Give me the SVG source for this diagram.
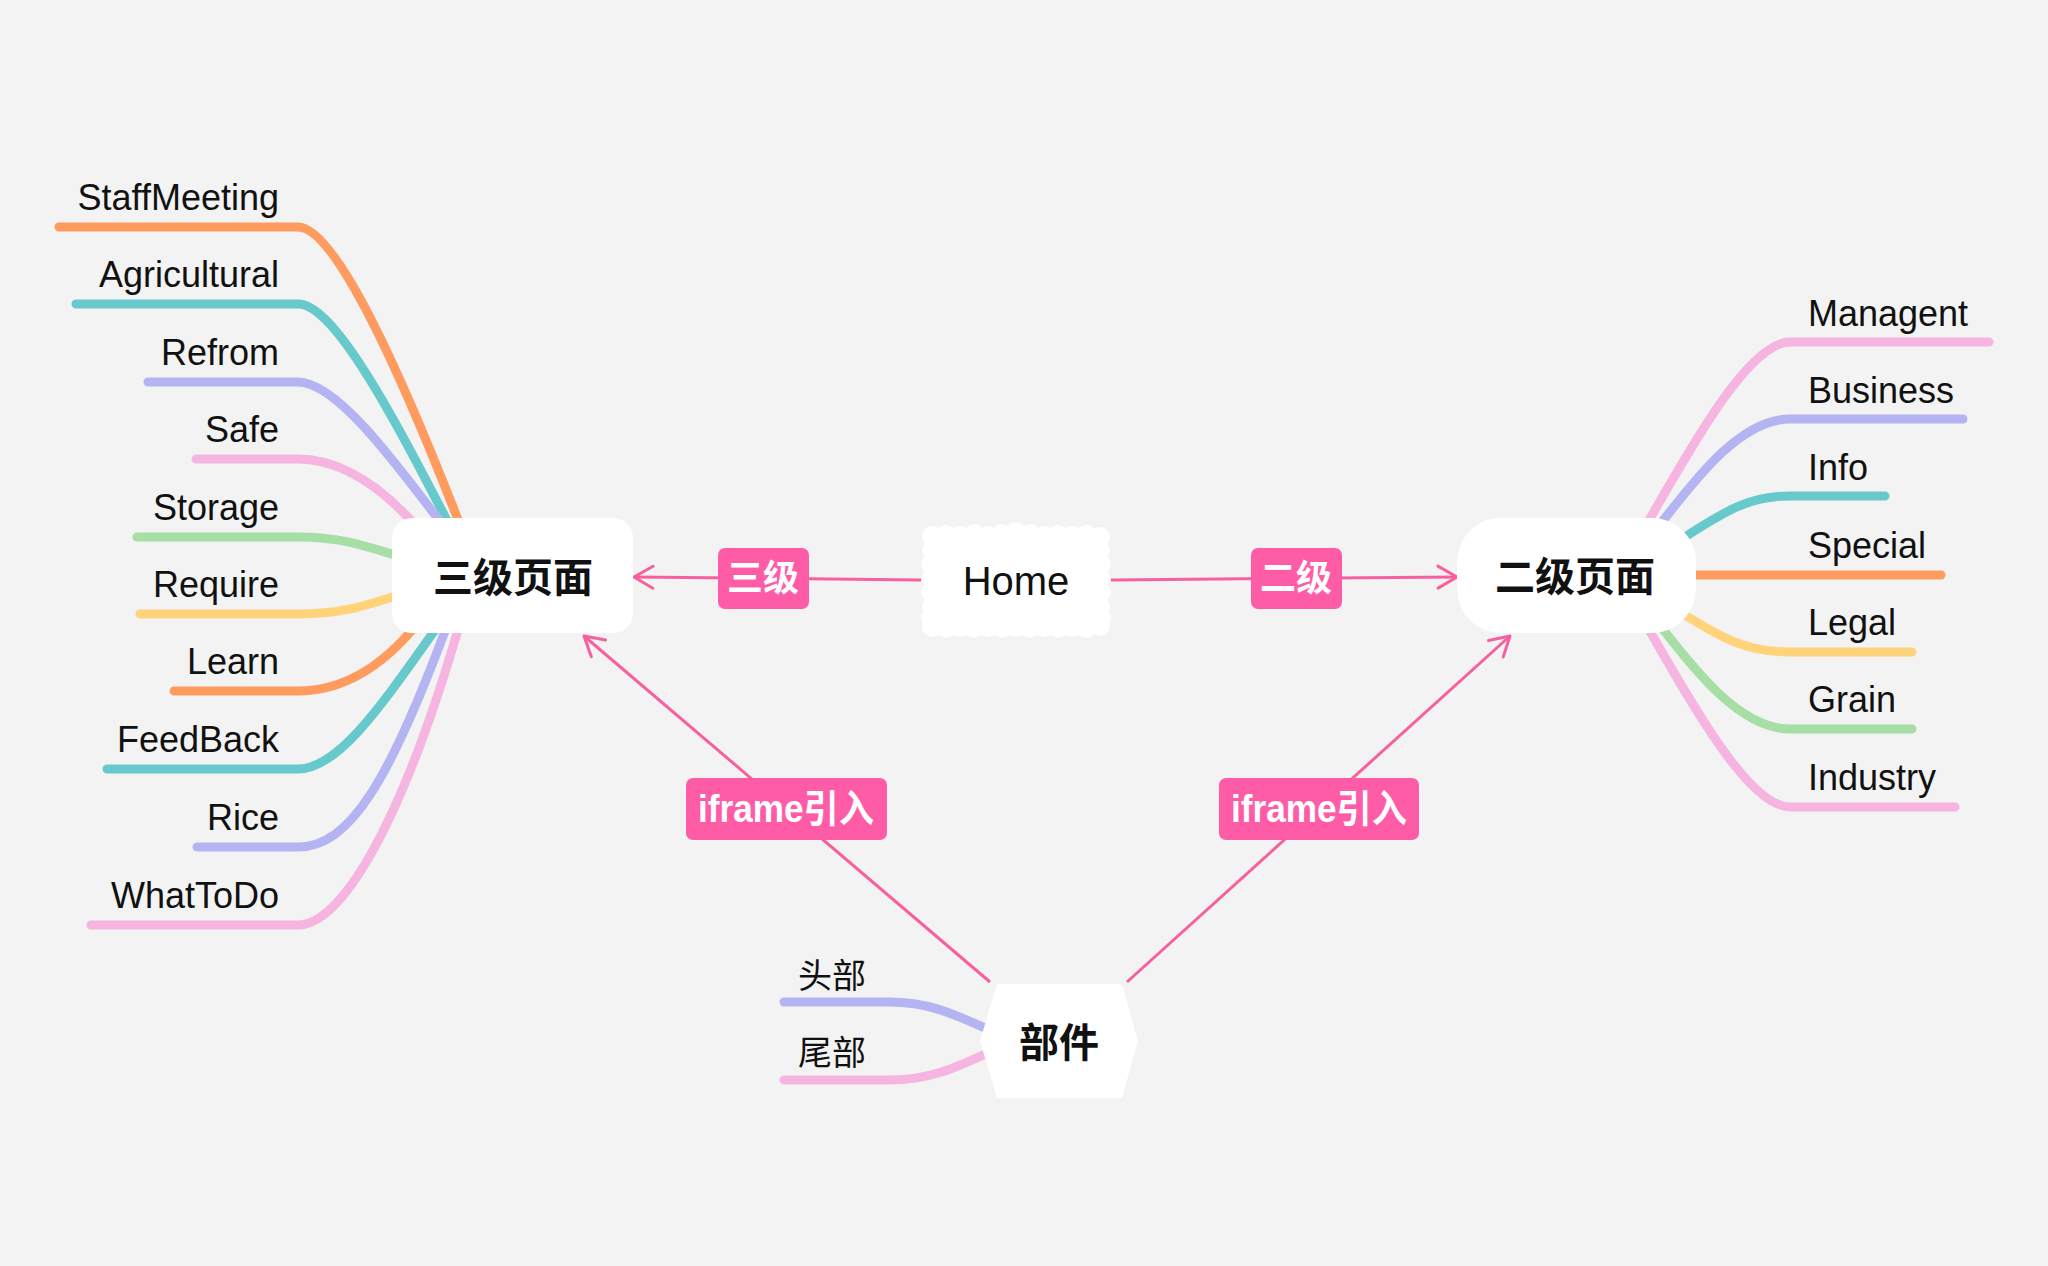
<svg xmlns="http://www.w3.org/2000/svg" width="2048" height="1266" viewBox="0 0 2048 1266">
<defs>
<style>
.br{fill:none;stroke-width:9;stroke-linecap:round;stroke-linejoin:round}
.or{stroke:#FF9B5E}.te{stroke:#67C9CC}.pu{stroke:#B4B4F2}.pk{stroke:#F5B5E0}.gr{stroke:#A6DEA6}.ye{stroke:#FFD37A}
.lbl{font-family:"Liberation Sans","Noto Sans CJK SC",sans-serif;font-size:36px;fill:#111}
.cjk{font-family:"Noto Sans CJK SC","Liberation Sans",sans-serif;fill:#111}
.rel{fill:none;stroke:#F7609F;stroke-width:3}
.tag{fill:#FF5CA8}
.tagt{font-family:"Liberation Sans","Noto Sans CJK SC",sans-serif;font-weight:bold;fill:#fff;text-anchor:middle}
.node{fill:#fff}
</style>
<marker id="arr" markerUnits="userSpaceOnUse" viewBox="-24 -14 28 28" markerWidth="28" markerHeight="28" refX="0" refY="0" orient="auto">
<path d="M-19,-11 L0,0 L-19,11" fill="none" stroke="#F7609F" stroke-width="3" stroke-linecap="round" stroke-linejoin="round"/>
</marker>
</defs>
<rect width="2048" height="1266" fill="#F3F3F3"/>

<g id="connectors">
<path class="br or" d="M59 227 H298 C335 227 400 370 462 530"/>
<path class="br te" d="M76 304 H298 C335 304 395 420 452 530"/>
<path class="br pu" d="M148 382 H298 C335 382 390 455 445 528"/>
<path class="br pk" d="M196 459 H298 C340 459 380 485 418 528"/>
<path class="br gr" d="M137 537 H298 C345 537 370 548 405 558"/>
<path class="br ye" d="M140 614 H298 C345 614 370 604 405 593"/>
<path class="br or" d="M174 691 H298 C340 691 380 670 418 623"/>
<path class="br te" d="M107 769 H298 C340 769 385 700 440 623"/>
<path class="br pu" d="M197 847 H298 C350 847 390 780 448 623"/>
<path class="br pk" d="M91 925 H298 C340 925 400 830 460 623"/>
<path class="br pk" d="M1648 522 C1695 440 1750 342 1790 342 H1989"/>
<path class="br pu" d="M1662 522 C1695 480 1740 419 1790 419 H1963"/>
<path class="br te" d="M1680 540 C1720 515 1745 496 1790 496 H1885"/>
<path class="br or" d="M1690 575 H1941"/>
<path class="br ye" d="M1680 612 C1720 637 1745 652 1790 652 H1912"/>
<path class="br gr" d="M1662 628 C1695 670 1740 729 1790 729 H1912"/>
<path class="br pk" d="M1648 628 C1695 710 1750 807 1790 807 H1955"/>
<path class="br pu" d="M784 1002 H890 C930 1002 955 1015 992 1031"/>
<path class="br pk" d="M784 1080 H890 C930 1080 955 1068 992 1051"/>
<line class="rel" x1="921" y1="580" x2="634" y2="577" marker-end="url(#arr)"/>
<line class="rel" x1="1111" y1="580" x2="1457" y2="577" marker-end="url(#arr)"/>
<line class="rel" x1="990" y1="982" x2="584" y2="636" marker-end="url(#arr)"/>
<line class="rel" x1="1127" y1="982" x2="1510" y2="636" marker-end="url(#arr)"/>
<g id="label-sanji"><rect class="tag" x="718" y="548" width="91" height="61" rx="7"/><text class="tagt" x="763" y="591" font-size="36">三级</text></g>
<g id="label-erji"><rect class="tag" x="1251" y="548" width="91" height="61" rx="7"/><text class="tagt" x="1296" y="591" font-size="36">二级</text></g>
<g id="label-iframe-left"><rect class="tag" x="686" y="778" width="201" height="62" rx="7"/><text class="tagt" x="786" y="822" font-size="38" textLength="176" lengthAdjust="spacingAndGlyphs">iframe引入</text></g>
<g id="label-iframe-right"><rect class="tag" x="1219" y="778" width="200" height="62" rx="7"/><text class="tagt" x="1319" y="822" font-size="38" textLength="176" lengthAdjust="spacingAndGlyphs">iframe引入</text></g>
</g>

<g id="node-sanji">
<rect class="node" x="392" y="518" width="241" height="115" rx="20"/>
<text class="cjk" x="513" y="592" font-size="40" font-weight="bold" text-anchor="middle">三级页面</text>
</g>
<g id="node-erji">
<rect class="node" x="1457" y="518" width="239" height="115" rx="44"/>
<text class="cjk" x="1575" y="591" font-size="40" font-weight="bold" text-anchor="middle">二级页面</text>
</g>
<g id="node-home">
<g class="node">
<rect x="932" y="535" width="168" height="93"/>
<circle cx="932" cy="536" r="10"/><circle cx="946" cy="535" r="10"/><circle cx="960" cy="536" r="10"/><circle cx="974" cy="534" r="10"/><circle cx="988" cy="536" r="10"/><circle cx="1002" cy="534" r="10"/><circle cx="1016" cy="532" r="10"/><circle cx="1030" cy="534" r="10"/><circle cx="1044" cy="536" r="10"/><circle cx="1058" cy="535" r="10"/><circle cx="1072" cy="536" r="10"/><circle cx="1086" cy="535" r="10"/><circle cx="1100" cy="537" r="10"/>
<circle cx="932" cy="627" r="10"/><circle cx="946" cy="628" r="10"/><circle cx="960" cy="627" r="10"/><circle cx="974" cy="628" r="10"/><circle cx="988" cy="627" r="10"/><circle cx="1002" cy="628" r="10"/><circle cx="1016" cy="627" r="10"/><circle cx="1030" cy="628" r="10"/><circle cx="1044" cy="627" r="10"/><circle cx="1058" cy="628" r="10"/><circle cx="1072" cy="627" r="10"/><circle cx="1086" cy="628" r="10"/><circle cx="1100" cy="626" r="10"/>
<circle cx="932" cy="550" r="10"/><circle cx="931" cy="564" r="10"/><circle cx="932" cy="578" r="10"/><circle cx="931" cy="592" r="10"/><circle cx="932" cy="606" r="10"/><circle cx="931" cy="618" r="10"/>
<circle cx="1100" cy="550" r="10"/><circle cx="1101" cy="564" r="10"/><circle cx="1100" cy="578" r="10"/><circle cx="1101" cy="592" r="10"/><circle cx="1100" cy="606" r="10"/><circle cx="1101" cy="618" r="10"/>
</g>
<text x="1016" y="595" font-family="Liberation Sans, sans-serif" font-size="40" fill="#111" text-anchor="middle">Home</text>
</g>
<g id="node-bujian">
<polygon class="node" points="980,1041 997,984 1122,984 1138,1041 1122,1098 997,1098"/>
<text class="cjk" x="1059" y="1057" font-size="40" font-weight="bold" text-anchor="middle">部件</text>
</g>

<g id="node-left-topics" class="lbl" text-anchor="end">
<g id="t-staffmeeting"><text x="279" y="210">StaffMeeting</text></g>
<g id="t-agricultural"><text x="279" y="287">Agricultural</text></g>
<g id="t-refrom"><text x="279" y="365">Refrom</text></g>
<g id="t-safe"><text x="279" y="442">Safe</text></g>
<g id="t-storage"><text x="279" y="520">Storage</text></g>
<g id="t-require"><text x="279" y="597">Require</text></g>
<g id="t-learn"><text x="279" y="674">Learn</text></g>
<g id="t-feedback"><text x="279" y="752">FeedBack</text></g>
<g id="t-rice"><text x="279" y="830">Rice</text></g>
<g id="t-whattodo"><text x="279" y="908">WhatToDo</text></g>
</g>
<g id="node-right-topics" class="lbl">
<g id="t-managent"><text x="1808" y="326">Managent</text></g>
<g id="t-business"><text x="1808" y="403">Business</text></g>
<g id="t-info"><text x="1808" y="480">Info</text></g>
<g id="t-special"><text x="1808" y="558">Special</text></g>
<g id="t-legal"><text x="1808" y="635">Legal</text></g>
<g id="t-grain"><text x="1808" y="712">Grain</text></g>
<g id="t-industry"><text x="1808" y="790">Industry</text></g>
</g>
<g id="node-head"><text class="cjk" x="798" y="988" font-size="34">头部</text></g>
<g id="node-tail"><text class="cjk" x="798" y="1065" font-size="34">尾部</text></g>
</svg>
